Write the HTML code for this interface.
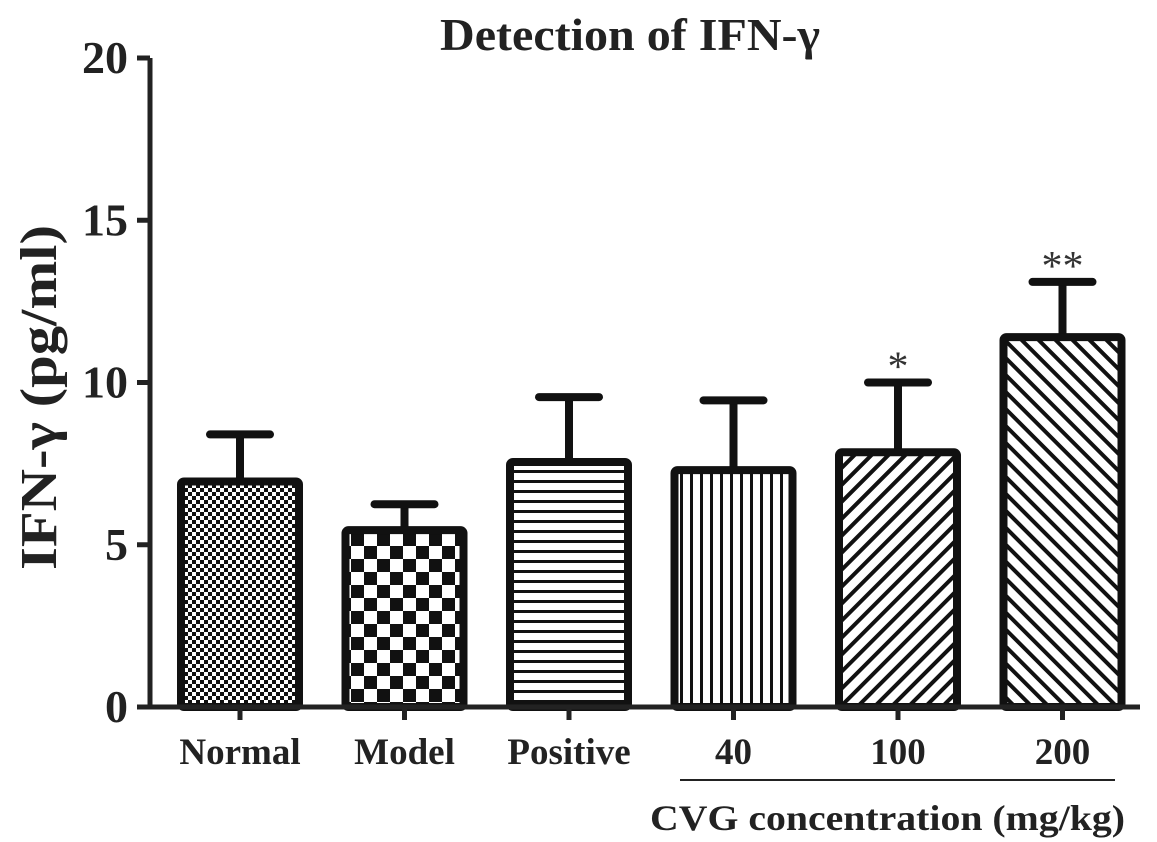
<!DOCTYPE html>
<html><head><meta charset="utf-8"><style>
body{margin:0;background:#fff;}
svg{display:block;font-family:"Liberation Serif",serif;font-weight:bold;}
</style></head><body>
<svg id="chart" width="1157" height="842" viewBox="0 0 1157 842">
<defs>
<pattern id="p0" width="8" height="8" patternUnits="userSpaceOnUse"><rect width="8" height="8" fill="#fff"/><rect x="0" y="0" width="4" height="4" fill="#111"/><rect x="4" y="4" width="4" height="4" fill="#111"/></pattern>
<pattern id="p1" width="26" height="26" patternUnits="userSpaceOnUse"><rect width="26" height="26" fill="#fff"/><rect x="0" y="0" width="13" height="13" fill="#111"/><rect x="13" y="13" width="13" height="13" fill="#111"/></pattern>
<pattern id="p2" width="10" height="10" patternUnits="userSpaceOnUse"><rect width="10" height="10" fill="#fff"/><rect x="0" y="0" width="10" height="3" fill="#111"/></pattern>
<pattern id="p3" width="10" height="10" patternUnits="userSpaceOnUse"><rect width="10" height="10" fill="#fff"/><rect x="0" y="0" width="3" height="10" fill="#111"/></pattern>
<pattern id="p4" width="12" height="12" patternUnits="userSpaceOnUse" patternTransform="rotate(45)"><rect width="12" height="12" fill="#fff"/><rect x="0" y="0" width="4" height="12" fill="#111"/></pattern>
<pattern id="p5" width="12" height="12" patternUnits="userSpaceOnUse" patternTransform="rotate(-45)"><rect width="12" height="12" fill="#fff"/><rect x="0" y="0" width="4" height="12" fill="#111"/></pattern>
</defs>
<text x="440" y="50" textLength="380" lengthAdjust="spacingAndGlyphs" font-size="46" fill="#222">Detection of IFN-γ</text>
<text transform="translate(56,570) rotate(-90)" textLength="345" lengthAdjust="spacingAndGlyphs" font-size="52" fill="#222">IFN-γ (pg/ml)</text>
<g id="plot"></g>
<line x1="680" y1="780" x2="1115" y2="780" stroke="#222" stroke-width="2"/>
<text x="650" y="830" textLength="475" lengthAdjust="spacingAndGlyphs" font-size="36" fill="#222">CVG concentration (mg/kg)</text>
</svg>
<script>
const categories=["Normal","Model","Positive","40","100","200"];
const means=[6.95,5.45,7.55,7.3,7.85,11.4];
const errors=[1.45,0.8,2.0,2.15,2.15,1.7];
const sig=["","","","","*","**"];
const yTicks=[0,5,10,15,20];
const ns="http://www.w3.org/2000/svg";
const g=document.getElementById('plot');
const y0=707,yTop=58,yMax=20,xL=150,xR=1140;
const y=v=>y0-(v/yMax)*(y0-yTop);
const step=164.5,x=i=>240+i*step;
const barW=126;
function mk(t,a){const e=document.createElementNS(ns,t);for(const k in a)e.setAttribute(k,a[k]);g.appendChild(e);return e;}
yTicks.forEach(t=>{
 const l=mk('line',{x1:137,x2:xL,y1:y(t),y2:y(t),stroke:'#222','stroke-width':5});
 
 
 const tx=mk('text',{x:128,y:y(t)+15,'text-anchor':'end','font-size':46,fill:'#222'});tx.textContent=t;
 
 
});
categories.forEach((c,i)=>{
 const cx=x(i),top=y(means[i]),et=y(means[i]+errors[i]);
 const el=mk('line',{x1:cx,x2:cx,y1:et,y2:top,stroke:'#111','stroke-width':8});
 
 
 const cap=mk('line',{x1:cx-30,x2:cx+30,y1:et,y2:et,stroke:'#111','stroke-width':8,'stroke-linecap':'round'});
 
 
 const r=mk('rect',{x:cx-barW/2+4,y:top,width:barW-8,height:y0-top,fill:'url(#p'+i+')',stroke:'#111','stroke-width':8,rx:3});
 
 
 const tk=mk('line',{x1:cx,x2:cx,y1:y0,y2:y0+13,stroke:'#222','stroke-width':5});
 
 
 const lb=mk('text',{x:cx,y:764,'text-anchor':'middle','font-size':37,fill:'#222'});lb.textContent=c;
 
 
 if(sig[i]){const s=mk('text',{x:cx,y:et-2,'text-anchor':'middle','font-size':42,'font-weight':'normal',fill:'#333'});s.textContent=sig[i];
 
 }
});
const ya=mk('line',{x1:xL,x2:xL,y1:yTop,y2:y0+2,stroke:'#222','stroke-width':5});


const xa=mk('line',{x1:xL,x2:xR,y1:y0,y2:y0,stroke:'#222','stroke-width':5});


</script>
</body></html>
